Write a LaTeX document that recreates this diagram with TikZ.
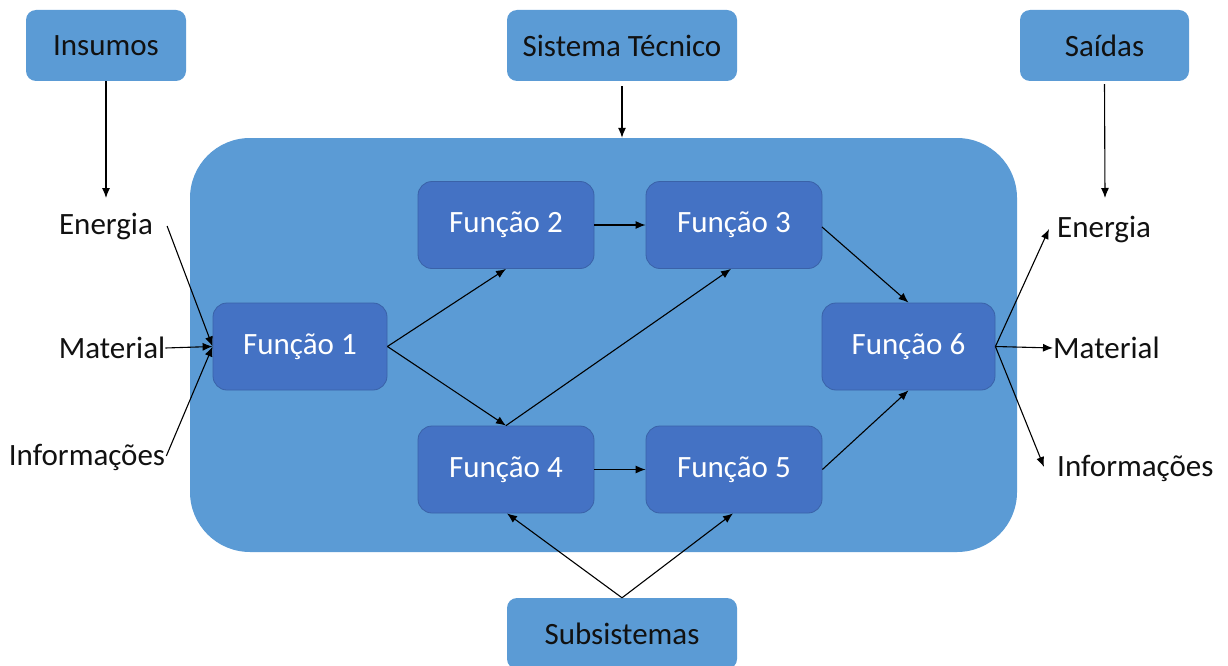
\documentclass[tikz,border=0pt]{standalone}
\usepackage{fontspec}
\setmainfont{Carlito}
\usetikzlibrary{arrows.meta,calc}
\definecolor{lblue}{HTML}{5B9BD5}
\definecolor{fblue}{HTML}{4472C4}
\definecolor{fborder}{HTML}{3A62A8}
\definecolor{txt}{HTML}{111111}
\tikzset{
  fbox/.style={draw=fborder, fill=fblue, rounded corners=14pt, minimum width=176pt, minimum height=87pt, text=white, line width=0.8pt, inner sep=0pt},
  tbox/.style={fill=lblue, rounded corners=10pt, minimum height=71pt, text=txt, inner sep=0pt},
  lab/.style={inner sep=0pt, text=txt},
  arr/.style={-{Latex[length=10pt,width=8pt]}, line width=1.1pt, draw=black}
}
\begin{document}
\begin{tikzpicture}[x=1pt,y=-1pt,font=\fontsize{31}{37}\selectfont]
\useasboundingbox (0,0) rectangle (1228,666);
% container
\node[fill=lblue, rounded corners=60pt, minimum width=827pt, minimum height=414pt, inner sep=0pt] (sys) at (603.5,345) {};
% top boxes
\node[tbox, minimum width=160pt] (ins) at (106,45.5) {Insumos};
\node[tbox, minimum width=230pt] (st) at (622,45.5) {Sistema Técnico};
\node[tbox, minimum width=169pt] (sai) at (1104.5,45.5) {Saídas};
\node[tbox, minimum width=230pt] (sub) at (622,633.5) {Subsistemas};
% function boxes
\node[fbox, minimum width=174pt] (f1) at (300,346.5) {Função 1};
\node[fbox] (f2) at (506,225) {Função 2};
\node[fbox] (f3) at (734,225) {Função 3};
\node[fbox] (f4) at (506,469.5) {Função 4};
\node[fbox] (f5) at (734,469.5) {Função 5};
\node[fbox, minimum width=173pt] (f6) at (908.5,346.5) {Função 6};
% labels left
\node[lab] (eL) at (106,226) {Energia};
\node[lab] (mL) at (112,348) {Material};
\node[lab] (iL) at (87,457) {Informações};
% labels right
\node[lab, anchor=west] (eR) at (1057,229) {Energia};
\node[lab, anchor=west] (mR) at (1053,348) {Material};
\node[lab, anchor=west] (iR) at (1057,468) {Informações};
% coordinates
\coordinate (insEnd) at (106,198);
\coordinate (saiEnd) at (1105,198);
\coordinate (f3out) at (822,227);
% top arrows
\draw[arr] (ins.south) -- (insEnd);
\draw[arr] ($(st.south)+(0,5)$) -- (sys.north -| st.south);
\draw[arr] ($(sai.south)+(0,3)$) -- (saiEnd);
% inputs
\draw[arr] ($(eL.east)+(14,0)$) -- (f1.west);
\draw[arr] (mL.east) -- (f1.west);
\draw[arr] ($(iL.east)+(1,-1)$) -- (f1.west);
% internal
\draw[arr] (f1.east) -- (f2.south);
\draw[arr] (f1.east) -- (f4.north);
\draw[arr] (f2.east) -- (f3.west);
\draw[arr] (f4.north) -- ($(f3.south)+(-3,0)$);
\draw[arr] (f4.east) -- (f5.west);
\draw[arr] (f3out) -- (f6.north);
\draw[arr] (f5.east) -- (f6.south);
% outputs
\draw[arr] (f6.east) -- ($(eR.west)+(-8,0)$);
\draw[arr] (f6.east) -- (mR.west);
\draw[arr] (f6.east) -- ($(iR.west)+(-13,-1)$);
% subsystems
\draw[arr] (sub.north) -- ($(f4.south)+(1,0)$);
\draw[arr] (sub.north) -- ($(f5.south)+(-1,0)$);
\end{tikzpicture}
\end{document}
